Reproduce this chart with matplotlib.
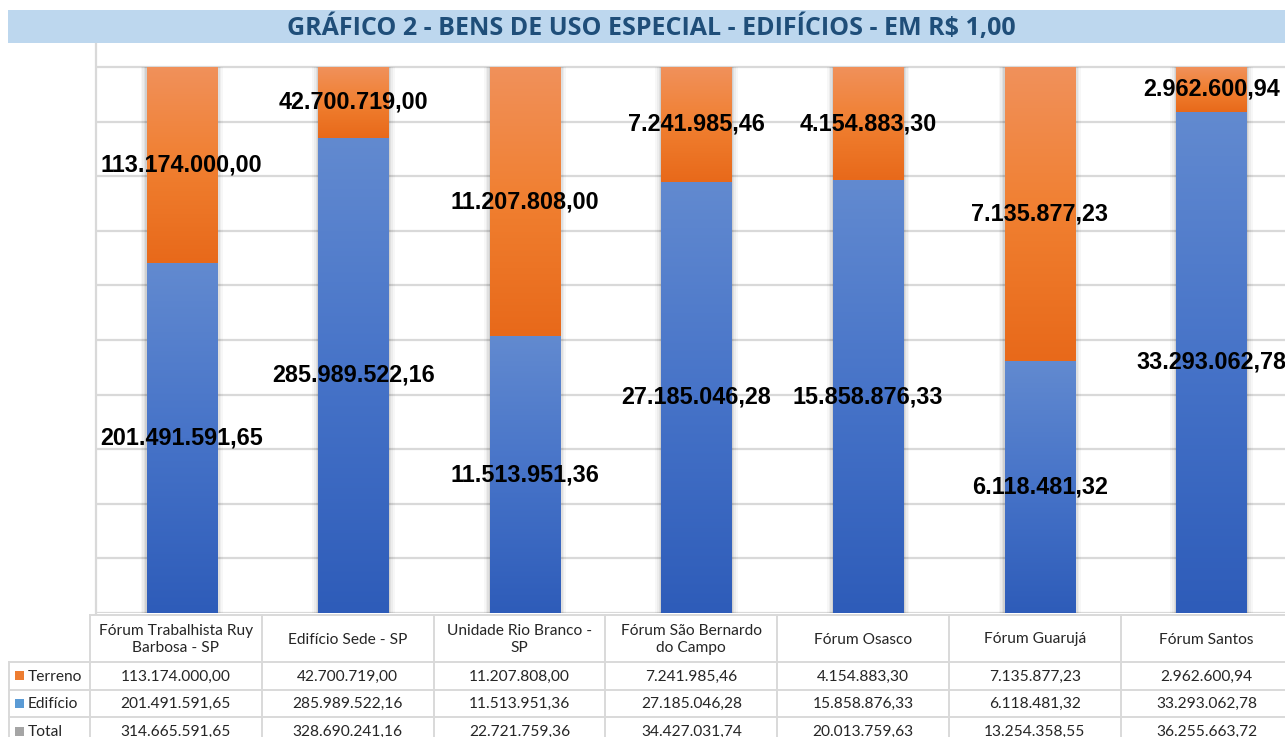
import matplotlib
matplotlib.use("Agg")
import matplotlib.pyplot as plt
import numpy as np
from matplotlib.colors import LinearSegmentedColormap
from matplotlib.patches import Rectangle

# ---------------- data ----------------
categories = ["Fórum Trabalhista Ruy\nBarbosa - SP", "Edifício Sede - SP",
              "Unidade Rio Branco -\nSP", "Fórum São Bernardo\ndo Campo",
              "Fórum Osasco", "Fórum Guarujá", "Fórum Santos"]
terreno = [113174000.00, 42700719.00, 11207808.00, 7241985.46,
           4154883.30, 7135877.23, 2962600.94]
edificio = [201491591.65, 285989522.16, 11513951.36, 27185046.28,
            15858876.33, 6118481.32, 33293062.78]
series_names = ["Terreno", "Edifício", "Total"]
title = "GRÁFICO 2 - BENS DE USO ESPECIAL - EDIFÍCIOS - EM R$ 1,00"

total = [t + e for t, e in zip(terreno, edificio)]


def fmt(v):
    s = f"{v:,.2f}"
    return s.replace(",", "X").replace(".", ",").replace("X", ".")


W, H = 1285, 737
fig = plt.figure(figsize=(W / 100, H / 100), dpi=100)

# pixel-coordinate overlay for title band and table
pax = fig.add_axes([0, 0, 1, 1])
pax.set_xlim(0, W)
pax.set_ylim(H, 0)
pax.axis("off")

# title band
pax.add_patch(Rectangle((8, 10), W - 8, 33, facecolor="#BDD7EE", edgecolor="none", zorder=0))
pax.text(651, 28, title, ha="center", va="center", fontsize=18, fontweight="bold",
         color="#1F4E79", family="Open Sans")

# ---------------- chart ----------------
px_left, px_right = 96, 96 + 7 * 171.6
px_top, px_bottom = 44, 613
ax = fig.add_axes([px_left / W, 1 - px_bottom / H, (px_right - px_left) / W,
                   (px_bottom - px_top) / H])
n = len(categories)
x = np.arange(n)
ter_frac = [t / s for t, s in zip(terreno, total)]
edi_frac = [e / s for e, s in zip(edificio, total)]

ax.set_xlim(-0.5, n - 0.5)
top_lim = (px_bottom - px_top) / (px_bottom - 67)
ax.set_ylim(0, top_lim)
ax.set_yticks(np.arange(0, 1.01, 0.1))
ax.yaxis.grid(True, color="#D9D9D9", linewidth=1.6)
ax.set_axisbelow(True)
ax.tick_params(left=False, bottom=False, labelleft=False, labelbottom=False)
for s in ["top", "right", "bottom"]:
    ax.spines[s].set_visible(False)
ax.spines["left"].set_color("#D9D9D9")
ax.spines["left"].set_linewidth(1.6)

bw = 0.41
# shadows
for k, a in zip([0.07, 0.05, 0.03, 0.015], [0.03, 0.04, 0.05, 0.07]):
    ax.bar(x, [1.0] * n, width=bw + k, color="black", alpha=a, zorder=1.5, linewidth=0)

cmap_or = LinearSegmentedColormap.from_list("or", ["#E8691A", "#F07F30", "#F1915B"])
cmap_bl = LinearSegmentedColormap.from_list("bl", ["#2E5CB9", "#4673C8", "#628AD0"])

bars_e = ax.bar(x, edi_frac, width=bw, color="#4472C4", zorder=2, linewidth=0)
bars_t = ax.bar(x, ter_frac, width=bw, bottom=edi_frac, color="#ED7D31", zorder=2, linewidth=0)

grad = np.linspace(0, 1, 256).reshape(-1, 1)
for bars, cm in [(bars_e, cmap_bl), (bars_t, cmap_or)]:
    for p in bars:
        x0, y0 = p.get_x(), p.get_y()
        w, h = p.get_width(), p.get_height()
        im = ax.imshow(grad, cmap=cm, aspect="auto", origin="lower",
                       extent=[x0, x0 + w, y0, y0 + h], zorder=2.5)
        im.set_clip_path(p)
ax.set_xlim(-0.5, n - 0.5)
ax.set_ylim(0, top_lim)

lab = dict(fontsize=16.8, fontweight="bold", family="Liberation Sans", color="black", zorder=5)
for i in range(n):
    ax.text(x[i], edi_frac[i] / 2, fmt(edificio[i]), ha="center", va="center", **lab)
    ax.text(x[i], edi_frac[i] + ter_frac[i] / 2, fmt(terreno[i]), ha="center", va="center", **lab)

# ---------------- data table ----------------
gc = "#D9D9D9"
lw = 1.4
tab_left = 90
colw = 171.8
row_y = [615, 662, 689.5, 717, 745]
legend_left = 9
tab_right = tab_left + n * colw
table_font = dict(fontsize=11.2, family="Lato", color="#262626")

# horizontal lines
pax.plot([tab_left, tab_right], [row_y[0], row_y[0]], color=gc, lw=lw)
for y in row_y[1:4]:
    pax.plot([legend_left, tab_right], [y, y], color=gc, lw=lw)
# vertical lines
pax.plot([legend_left, legend_left], [row_y[1], row_y[4]], color=gc, lw=lw)
for i in range(n + 1):
    xx = tab_left + i * colw
    pax.plot([xx, xx], [row_y[0], row_y[4]], color=gc, lw=lw)

for i, c in enumerate(categories):
    cx = tab_left + (i + 0.5) * colw
    pax.text(cx, (row_y[0] + row_y[1]) / 2 + 1, c, ha="center", va="center",
             linespacing=1.35, **table_font)
    for r, vals in enumerate([terreno, edificio, total]):
        pax.text(cx, (row_y[r + 1] + row_y[r + 2]) / 2 + 1, fmt(vals[i]),
                 ha="center", va="center", **table_font)

key_colors = ["#ED7D31", "#5B9BD5", "#A5A5A5"]
for r, (name, kc) in enumerate(zip(series_names, key_colors)):
    yc = (row_y[r + 1] + row_y[r + 2]) / 2
    pax.add_patch(Rectangle((15, yc - 4.5), 9, 9, facecolor=kc, edgecolor="none"))
    pax.text(28, yc + 1, name, ha="left", va="center", **table_font)

fig.savefig("out.png", dpi=100)
